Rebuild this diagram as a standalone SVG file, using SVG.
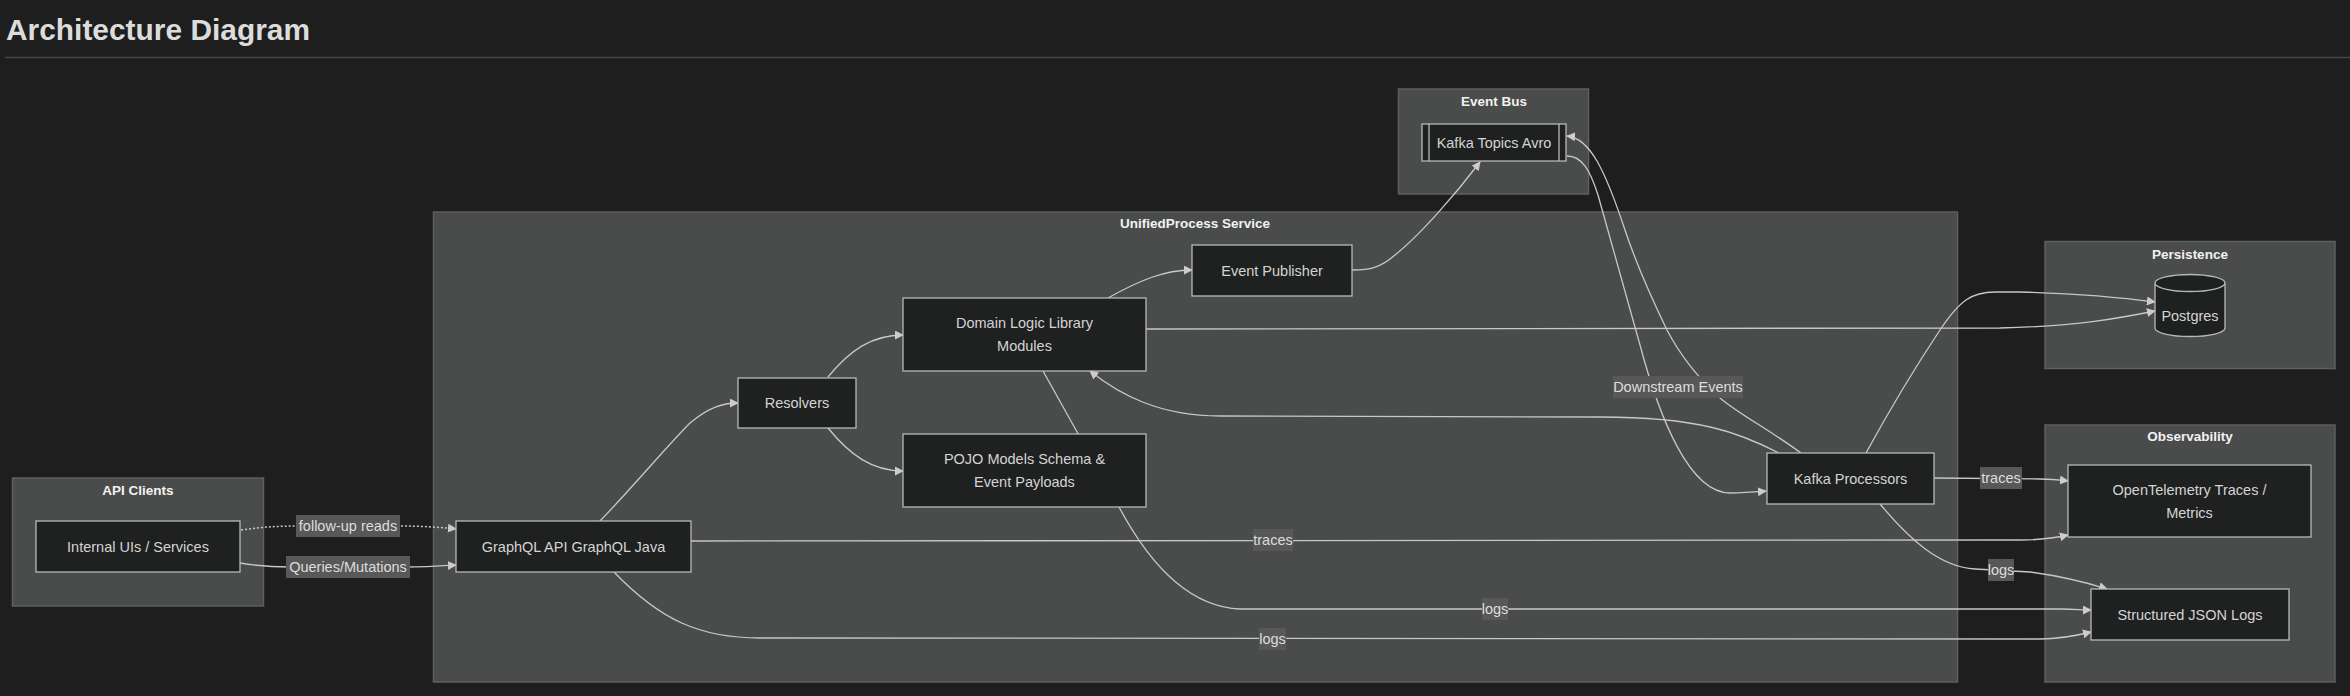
<svg xmlns="http://www.w3.org/2000/svg" width="2350" height="696" viewBox="0 0 2350 696">
<defs>
<marker id="arr" viewBox="0 0 10 10" refX="9" refY="5" markerUnits="userSpaceOnUse" markerWidth="9" markerHeight="9" orient="auto">
<path d="M0,0 L10,5 L0,10 z" fill="#cccccc"/>
</marker>
<style>
.cl{fill:#4a4b4b;stroke:#5e5f5f;stroke-width:1.5}
.ct{font-family:"Liberation Sans",Arial,sans-serif;font-size:13.5px;font-weight:bold;fill:#f2f2f2;text-anchor:middle}
.nd{fill:#1f2020;stroke:#b8b8b8;stroke-width:1.3}
.nt{font-family:"Liberation Sans",Arial,sans-serif;font-size:14.5px;fill:#d4d4d4;text-anchor:middle;dominant-baseline:central}
.e{fill:none;stroke:#c8c8c8;stroke-width:1.3}
.ed{fill:none;stroke:#c8c8c8;stroke-width:1.5;stroke-dasharray:2 2}
.lb{fill:#585858}
.lt{font-family:"Liberation Sans",Arial,sans-serif;font-size:14.5px;fill:#dddddd;text-anchor:middle;dominant-baseline:central}
</style>
</defs>
<rect x="0" y="0" width="2350" height="696" fill="#1e1e1e"/>
<text x="6" y="40" font-family="Liberation Sans,Arial,sans-serif" font-size="30" font-weight="bold" fill="#dcdcdc" textLength="304" lengthAdjust="spacingAndGlyphs">Architecture Diagram</text>
<line x1="5" y1="57.5" x2="2350" y2="57.5" stroke="#464646" stroke-width="1.5"/>

<g id="clusters">
<g id="cluster-api-clients"><rect class="cl" x="12.5" y="478" width="251" height="128"/><text class="ct" x="138" y="495">API Clients</text></g>
<g id="cluster-unified"><rect class="cl" x="433.5" y="212" width="1524" height="470"/><text class="ct" x="1195" y="228">UnifiedProcess Service</text></g>
<g id="cluster-event-bus"><rect class="cl" x="1398.5" y="89" width="190" height="105"/><text class="ct" x="1494" y="106">Event Bus</text></g>
<g id="cluster-persistence"><rect class="cl" x="2045" y="241.5" width="290" height="127"/><text class="ct" x="2190" y="259">Persistence</text></g>
<g id="cluster-observability"><rect class="cl" x="2045" y="425" width="290" height="257"/><text class="ct" x="2190" y="441">Observability</text></g>
</g>

<g id="connectors">
<path class="ed" d="M241,530 C262,527 278,526 300,526 L398,526 C420,526 438,527 456,529" marker-end="url(#arr)"/>
<path class="e" d="M240,563 C258,566 270,567 290,567 L406,567 C425,567 440,566 456,565" marker-end="url(#arr)"/>
<path class="e" d="M600,521 C630,490 668,445 690,423 C708,408 722,403 738,403" marker-end="url(#arr)"/>
<path class="e" d="M828,377 C850,350 872,335 903,335" marker-end="url(#arr)"/>
<path class="e" d="M828,428 C850,455 872,471 903,471" marker-end="url(#arr)"/>
<path class="e" d="M1108,298 C1140,280 1165,270 1192,270" marker-end="url(#arr)"/>
<path class="e" d="M1352,270 C1370,270 1380,268 1395,255 C1420,235 1455,195 1480,162" marker-end="url(#arr)"/>
<path class="e" d="M1146,329 L2000,328 C2080,326 2120,318 2155,311" marker-end="url(#arr)"/>
<path class="e" d="M1779,453 C1740,433 1700,417 1600,417 L1220,416 C1160,416 1120,395 1090,371" marker-end="url(#arr)"/>
<path class="e" d="M1567,156 C1582,156 1590,170 1598,195 L1640,345 C1660,420 1690,493 1730,493 C1745,493 1755,492 1766,491" marker-end="url(#arr)"/>
<path class="e" d="M1801,453 C1770,430 1740,415 1720,398 C1695,375 1680,355 1667,330 C1650,295 1635,260 1625,230 C1605,170 1590,138 1567,136" marker-end="url(#arr)"/>
<path class="e" d="M1866,453 C1895,400 1920,360 1940,330 C1960,300 1972,292 1995,292 L2020,292 C2090,294 2125,298 2155,302" marker-end="url(#arr)"/>
<path class="e" d="M1934,478 L2040,479 C2052,479 2060,480 2068,481" marker-end="url(#arr)"/>
<path class="e" d="M1880,504 C1910,540 1940,567 1975,569 L2030,572 C2060,576 2085,582 2107,589" marker-end="url(#arr)"/>
<path class="e" d="M691,541 L2020,540 C2040,540 2055,538 2068,535" marker-end="url(#arr)"/>
<path class="e" d="M614,572 C660,620 700,638 760,638 L2040,639 C2060,639 2075,636 2091,632" marker-end="url(#arr)"/>
<path class="e" d="M1043,371 L1119,507 C1150,565 1190,607 1240,609 L2060,609 C2075,609 2082,610 2091,610" marker-end="url(#arr)"/>
</g>

<g id="edge-labels">
<rect class="lb" x="296" y="515" width="104" height="22"/><text class="lt" x="348" y="526">follow-up reads</text>
<rect class="lb" x="286" y="556" width="124" height="22"/><text class="lt" x="348" y="567">Queries/Mutations</text>
<rect class="lb" x="1253" y="529" width="40" height="22"/><text class="lt" x="1273" y="540">traces</text>
<rect class="lb" x="1259" y="628" width="27" height="22"/><text class="lt" x="1272.5" y="639">logs</text>
<rect class="lb" x="1482" y="598" width="26" height="22"/><text class="lt" x="1495" y="609">logs</text>
<rect class="lb" x="1613" y="376" width="130" height="22"/><text class="lt" x="1678" y="387">Downstream Events</text>
<rect class="lb" x="1980" y="467" width="42" height="22"/><text class="lt" x="2001" y="478">traces</text>
<rect class="lb" x="1988" y="559" width="26" height="22"/><text class="lt" x="2001" y="570">logs</text>
</g>

<g id="node-internal-uis"><rect class="nd" x="36" y="521" width="204" height="51"/><text class="nt" x="138" y="546.5">Internal UIs / Services</text></g>
<g id="node-graphql-api"><rect class="nd" x="456" y="521" width="235" height="51"/><text class="nt" x="573.5" y="546.5">GraphQL API GraphQL Java</text></g>
<g id="node-resolvers"><rect class="nd" x="738" y="378" width="118" height="50"/><text class="nt" x="797" y="403">Resolvers</text></g>
<g id="node-domain-logic"><rect class="nd" x="903" y="298" width="243" height="73"/><text class="nt" x="1024.5" y="323">Domain Logic Library</text><text class="nt" x="1024.5" y="346">Modules</text></g>
<g id="node-pojo-models"><rect class="nd" x="903" y="434" width="243" height="73"/><text class="nt" x="1024.5" y="459">POJO Models Schema &amp;</text><text class="nt" x="1024.5" y="482">Event Payloads</text></g>
<g id="node-event-publisher"><rect class="nd" x="1192" y="245" width="160" height="51"/><text class="nt" x="1272" y="270.5">Event Publisher</text></g>
<g id="node-kafka-processors"><rect class="nd" x="1767" y="453" width="167" height="51"/><text class="nt" x="1850.5" y="478.5">Kafka Processors</text></g>
<g id="node-kafka-topics"><rect class="nd" x="1422" y="124" width="144" height="37"/><line x1="1429" y1="124" x2="1429" y2="161" stroke="#b8b8b8" stroke-width="1.3"/><line x1="1559" y1="124" x2="1559" y2="161" stroke="#b8b8b8" stroke-width="1.3"/><text class="nt" x="1494" y="142.5">Kafka Topics Avro</text></g>
<g id="node-postgres"><path class="nd" d="M2155,283 a35,8.5 0 0,0 70,0 a35,8.5 0 0,0 -70,0 l0,45 a35,8.5 0 0,0 70,0 l0,-45"/><text class="nt" x="2190" y="316">Postgres</text></g>
<g id="node-opentelemetry"><rect class="nd" x="2068" y="465" width="243" height="72"/><text class="nt" x="2189.5" y="490">OpenTelemetry Traces /</text><text class="nt" x="2189.5" y="513">Metrics</text></g>
<g id="node-json-logs"><rect class="nd" x="2091" y="589" width="198" height="51"/><text class="nt" x="2190" y="614.5">Structured JSON Logs</text></g>
</svg>
